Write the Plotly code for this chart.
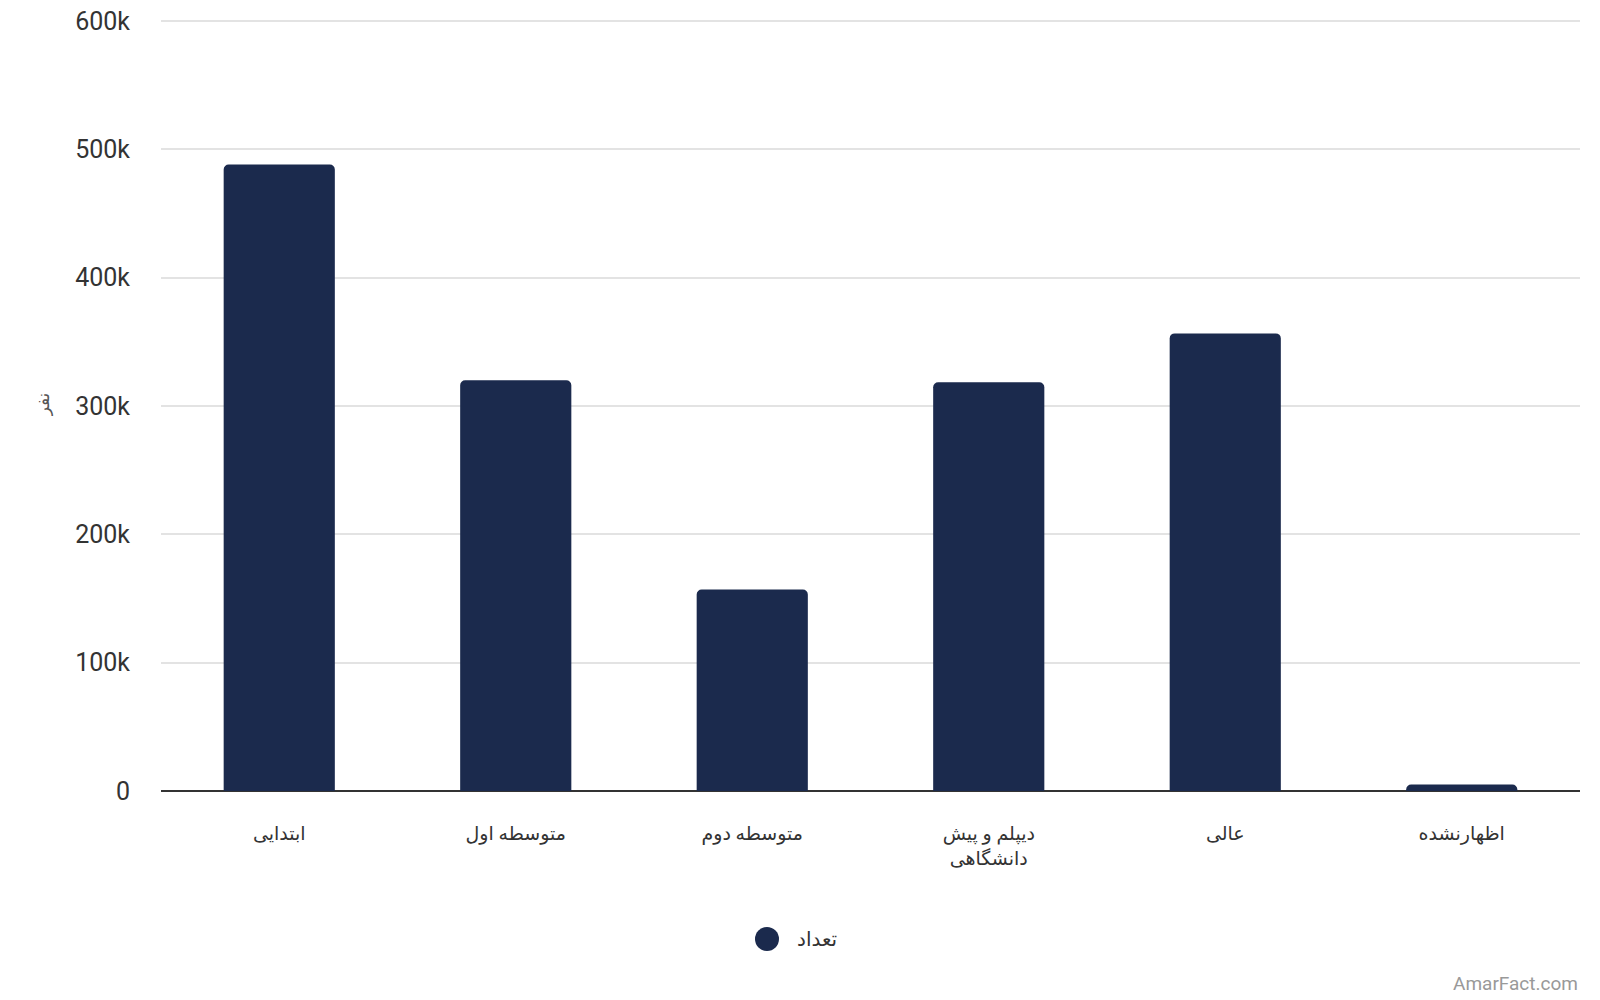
import plotly.graph_objects as go

categories = ["ابتدایی", "متوسطه اول", "متوسطه دوم", "دیپلم و پیش<br>دانشگاهی", "عالی", "اظهارنشده"]
values = [488000, 320000, 157000, 318500, 356500, 5000]
series_name = "تعداد"
y_title = "نفر"
tick_vals = [0, 100000, 200000, 300000, 400000, 500000, 600000]
tick_text = ["0", "100k", "200k", "300k", "400k", "500k", "600k"]

bar_color = "#1b2a4d"
font_family = "Roboto, 'DejaVu Sans', sans-serif"

# figure geometry (page has an 8px body margin)
W, H = 1592, 992
L, R, T, B = 153, 20, 9, 209
PW, PH = W - L - R, H - T - B


def px(x):
    return (x - L) / PW


def py(y):
    return (H - B - y) / PH


fig = go.Figure()
fig.add_trace(go.Bar(
    x=categories, y=values, name=series_name,
    marker=dict(color=bar_color, cornerradius=5, line=dict(width=0)),
    showlegend=False,
))

# legend drawn as circle + label below the plot
fig.add_shape(type="circle", xref="paper", yref="paper",
              x0=px(747), x1=px(771), y0=py(943), y1=py(919),
              fillcolor=bar_color, line=dict(width=0))

fig.update_layout(
    width=W, height=H,
    paper_bgcolor="white", plot_bgcolor="white",
    margin=dict(l=L, r=R, t=T, b=B, autoexpand=False),
    bargap=0.53,
    font=dict(family=font_family, size=17, color="#333333"),
    showlegend=False,
    xaxis=dict(showgrid=False, tickfont=dict(size=19, color="#333333"), ticks="",
               showline=False, zeroline=False, automargin=False, ticklabelstandoff=29),
    yaxis=dict(range=[0, 603000], tickvals=tick_vals, ticktext=tick_text,
               showgrid=True, gridcolor="#e3e3e3", gridwidth=1.5,
               zeroline=True, zerolinecolor="#333333", zerolinewidth=2,
               tickfont=dict(size=25, color="#333333"), ticklabelstandoff=30,
               ticklabeloverflow="allow",
               automargin=False,
               title=dict(text=y_title, font=dict(size=17, color="#555555"), standoff=21)),
    annotations=[
        dict(text=series_name, xref="paper", yref="paper", x=px(787), y=py(931),
             xanchor="left", yanchor="middle", showarrow=False,
             font=dict(size=20, color="#333333")),
        dict(text="AmarFact.com", xref="paper", yref="paper", x=1.0, y=py(976),
             xanchor="right", yanchor="middle", showarrow=False,
             font=dict(size=19, color="#999999")),
    ],
)

fig.write_html("out.html")
